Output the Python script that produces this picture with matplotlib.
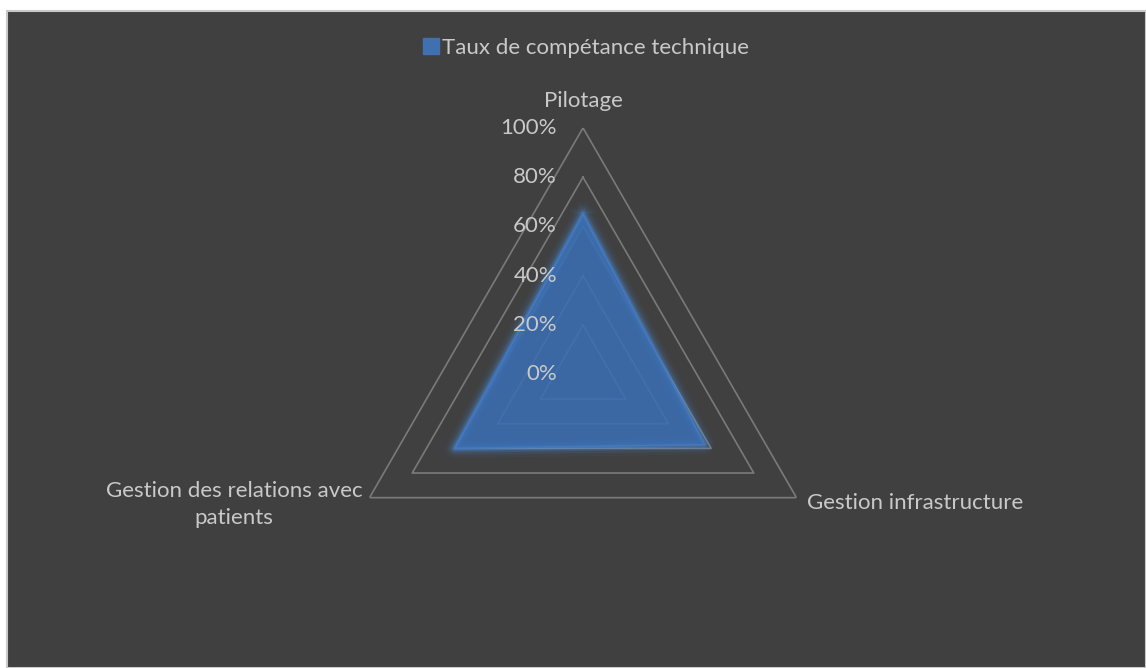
import numpy as np
import matplotlib
matplotlib.use('Agg')
import matplotlib.pyplot as plt
from matplotlib.patches import Patch, Rectangle

# data
categories = ['Pilotage', 'Gestion infrastructure', 'Gestion des relations avec\npatients']
values = [0.65, 0.57, 0.60]
series_name = 'Taux de compétance technique'
levels = [0.0, 0.2, 0.4, 0.6, 0.8, 1.0]
level_labels = ['0%', '20%', '40%', '60%', '80%', '100%']

plt.rcParams['font.family'] = ['Lato', 'DejaVu Sans']
fs = 16

W, H = 1146, 668
fig = plt.figure(figsize=(W / 100, H / 100), dpi=100, facecolor='white')

# dark chart area with thin light border
fig.patches.append(Rectangle((7 / W, 0), 1 - 7 / W, 1 - 11 / H, transform=fig.transFigure,
                             facecolor='#404040', edgecolor='#c8c8c8', linewidth=1.5, zorder=-10))

# polar axes placed so center is at (583, 374) px with radius 246 px
cx, cy, rad = 583 / W, 1 - 374.4 / H, 246.5
ax = fig.add_axes([cx - rad / W, cy - rad / H, 2 * rad / W, 2 * rad / H], projection='polar')
ax.set_facecolor('none')
ax.set_theta_offset(np.pi / 2)
ax.set_theta_direction(-1)
ax.set_ylim(0, 1)
ax.axis('off')

n = len(categories)
theta = np.linspace(0, 2 * np.pi, n, endpoint=False)
theta_c = np.append(theta, theta[0])

text_col = '#c9c9c9'
grid_col = '#7a7a7a'

# triangular gridlines
for lv in levels[1:]:
    ax.plot(theta_c, [lv] * (n + 1), color=grid_col, lw=1.2, zorder=1)

# series with a soft glow
vals_c = np.append(values, values[0])
for lw, a in [(14, 0.06), (10, 0.1), (6.5, 0.18), (3.5, 0.35)]:
    ax.plot(theta_c, vals_c, color='#4a8ee0', lw=lw, alpha=a, zorder=2, solid_joinstyle='round')
ax.fill(theta_c, vals_c, color='#3b6eb2', alpha=0.88, zorder=3, lw=0)
ax.plot(theta_c, vals_c, color='#4579bd', lw=1.2, zorder=4)

# radial tick labels
for lv, lab in zip(levels, level_labels):
    ax.annotate(lab, xy=(0, lv), xytext=(-26, 0), textcoords='offset pixels',
                ha='right', va='center', color=text_col, fontsize=fs, zorder=5)

# category labels
offsets = [((0, 27), 'center'), ((11, -5), 'left'), ((-7, -7), 'right')]
for t, lab, (off, ha) in zip(theta, categories, offsets):
    ax.annotate(lab, xy=(t, 1.0), xytext=off, textcoords='offset pixels',
                ha=ha, va='center', multialignment='center', color=text_col, fontsize=fs,
                linespacing=1.45, annotation_clip=False)

# legend
handle = Patch(facecolor='#4170b0', edgecolor='#4170b0', label=series_name)
fig.legend(handles=[handle], loc='center', bbox_to_anchor=(586 / W, 1 - 48 / H),
           frameon=False, handlelength=0.7, handleheight=0.7, handletextpad=0.15,
           fontsize=fs, labelcolor=text_col)

fig.savefig('out.png', dpi=100, facecolor='white')
